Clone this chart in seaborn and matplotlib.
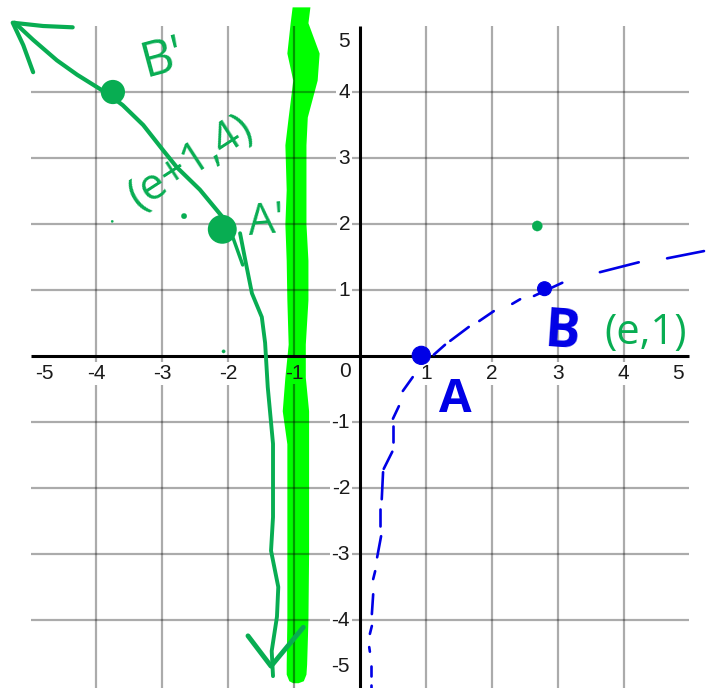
import numpy as np
import pandas as pd
import matplotlib
matplotlib.use("Agg")
import matplotlib.pyplot as plt
import seaborn as sns

# grid and tick labels
grid_vals = [-4, -3, -2, -1, 1, 2, 3, 4]
tick_vals = [-5, -4, -3, -2, -1, 1, 2, 3, 4, 5]

# thick bright green band (asymptote x = -1)
band_y = [5.29, 5.05, 4.59, 4.18, 3.62, 3.20, 2.52, 2.0, 1.45, 0.85, 0.18, -0.32, -0.83,
          -1.33, -2.18, -3.0, -4.0, -4.67, -4.82, -4.92, -4.95]
band_left = [-1.03, -1.06, -1.11, -1.02, -1.09, -1.14, -1.12, -1.14, -1.12, -1.11, -1.09,
             -1.14, -1.18, -1.11, -1.11, -1.11, -1.11, -1.12, -1.12, -1.08, -1.02]
band_right = [-0.76, -0.79, -0.62, -0.65, -0.80, -0.82, -0.82, -0.82, -0.79, -0.79, -0.83,
              -0.83, -0.78, -0.78, -0.78, -0.78, -0.79, -0.81, -0.82, -0.86, -0.94]

# dark green hand drawn curve
upper_x = [-5.24, -4.96, -4.60, -4.29, -3.84, -3.60, -3.29, -2.99, -2.78, -2.43, -2.09]
upper_y = [5.05, 4.79, 4.48, 4.26, 3.98, 3.80, 3.50, 3.12, 2.86, 2.52, 2.11]
lower_x = [-1.82, -1.75, -1.64, -1.49, -1.44, -1.40, -1.32, -1.32, -1.32, -1.35, -1.24, -1.26, -1.34, -1.32]
lower_y = [1.86, 1.5, 0.95, 0.59, 0.20, -0.47, -1.33, -1.98, -2.44, -2.95, -3.5, -3.95, -4.47, -4.85]
short_x = [-1.93, -1.78]
short_y = [1.80, 1.38]
head_top_x = [-4.36, -4.81, -5.27, -5.11, -4.96]
head_top_y = [4.98, 5.0, 5.05, 4.71, 4.30]
head_low_x = [-1.70, -1.35, -0.86]
head_low_y = [-4.24, -4.70, -4.11]

# dashed blue curve, one entry per pen stroke
blue_x = [[1.12, 1.29], [1.37, 1.65], [1.81, 2.03], [2.31, 2.43], [2.64, 3.07], [3.64, 4.23], [4.66, 5.22],
          [0.80, 0.65], [0.59, 0.50], [0.50, 0.50], [0.49, 0.36], [0.35, 0.33], [0.30, 0.30], [0.32, 0.26],
          [0.23, 0.20], [0.20, 0.18], [0.18, 0.15], [0.14, 0.15], [0.17, 0.17], [0.17, 0.17]]
blue_y = [[0.02, 0.17], [0.23, 0.44], [0.53, 0.68], [0.79, 0.86], [0.91, 1.11], [1.27, 1.42], [1.48, 1.59],
          [-0.32, -0.53], [-0.76, -0.95], [-1.06, -1.30], [-1.45, -1.71], [-1.76, -2.17], [-2.32, -2.58],
          [-2.73, -3.05], [-3.26, -3.38], [-3.61, -3.91], [-4.09, -4.21], [-4.41, -4.48], [-4.70, -4.85], [-4.98, -5.03]]

# dots
green_dots_x = [-3.75, -2.09]
green_dots_y = [4.0, 1.92]
speck_x = [2.69, -2.67, -3.76, -2.07]
speck_y = [1.97, 2.12, 2.04, 0.07]
blue_dots_x = [0.93, 2.80]
blue_dots_y = [0.01, 1.02]

DARK = "#08ad52"
BLUE = "#0000e6"
LIME = "#00ff00"

sns.set_theme(style="white")
plt.rcParams['font.family'] = ['Liberation Sans', 'DejaVu Sans']

fig = plt.figure(figsize=(7.14, 6.88), dpi=100)
ax = fig.add_axes([0, 0, 1, 1])
ax.set_xlim(-5.463, 5.372)
ax.set_ylim(-5.03, 5.394)
ax.axis("off")

ax.fill_betweenx(band_y, band_left, band_right, color=LIME, lw=0, zorder=2)

# grid goes over the band, the x=-1 line stops behind its label
for v in grid_vals:
    ax.hlines(v, -5, 5, color="black", alpha=0.33, lw=1.6, zorder=3)
    if v == -1:
        ax.vlines(v, 0.02, 5, color="black", alpha=0.4, lw=1.6, zorder=3)
        ax.vlines(v, -5.03, -0.42, color="black", alpha=0.4, lw=1.6, zorder=3)
    else:
        ax.vlines(v, -5.03, 5, color="black", alpha=0.33, lw=1.6, zorder=3)
ax.hlines(0, -5, 5, color="black", lw=2.2, zorder=4)
ax.vlines(0, -5.03, 5, color="black", lw=2.2, zorder=4)

box = dict(facecolor="white", edgecolor="none", pad=1.5)
for v in tick_vals:
    xpos = {-5: -4.79, 5: 4.83}.get(v, v)
    ypos = {5: 4.77, -5: -4.71}.get(v, v)
    ax.text(xpos, -0.27, str(v), ha="center", va="center", fontsize=15, color="#1a1a1a",
            bbox=None if v == -1 else box, zorder=5)
    ax.text(-0.15, ypos, str(v), ha="right", va="center", fontsize=15, color="#1a1a1a", bbox=box, zorder=5)
ax.text(-0.23, -0.24, "0", ha="center", va="center", fontsize=15, color="#1a1a1a", zorder=5)

def stroke(xs, ys, color, lw):
    sns.lineplot(x=xs, y=ys, sort=False, estimator=None, color=color, lw=lw, ax=ax, zorder=6,
                 solid_capstyle="round", solid_joinstyle="round")

stroke(upper_x, upper_y, DARK, 3)
stroke(lower_x, lower_y, DARK, 2.8)
stroke(short_x, short_y, DARK, 2.5)
stroke(head_top_x, head_top_y, DARK, 3)
stroke(head_low_x, head_low_y, DARK, 3.5)
for xs, ys in zip(blue_x, blue_y):
    stroke(xs, ys, BLUE, 1.9)

sns.scatterplot(x=green_dots_x, y=green_dots_y, s=[260, 380], color=DARK, edgecolor=DARK, ax=ax, zorder=7, legend=False)
sns.scatterplot(x=speck_x, y=speck_y, s=[55, 16, 3, 6], color=DARK, edgecolor=DARK, ax=ax, zorder=7, legend=False)
sns.scatterplot(x=blue_dots_x, y=blue_dots_y, s=[170, 100], color=BLUE, edgecolor=BLUE, ax=ax, zorder=7, legend=False)

# hand written labels
hand = dict(ha="center", va="center", zorder=8, family=["Open Sans", "DejaVu Sans"])
ax.text(-3.0, 4.5, "B'", color=DARK, fontsize=36, rotation=15, **hand)
ax.text(-2.58, 2.94, "(e+1,4)", color=DARK, fontsize=32, rotation=33, **hand)
ax.text(-1.42, 2.03, "A'", color=DARK, fontsize=31, rotation=5, **hand)
ax.text(1.45, -0.66, "A", color=BLUE, fontsize=34, fontweight="bold", **hand)
ax.text(3.07, 0.35, "B", color=BLUE, fontsize=38, fontweight="bold", rotation=-4, **hand)
ax.text(4.34, 0.35, "(e,1)", color=DARK, fontsize=30, **hand)

fig.savefig("out.png", dpi=100)
